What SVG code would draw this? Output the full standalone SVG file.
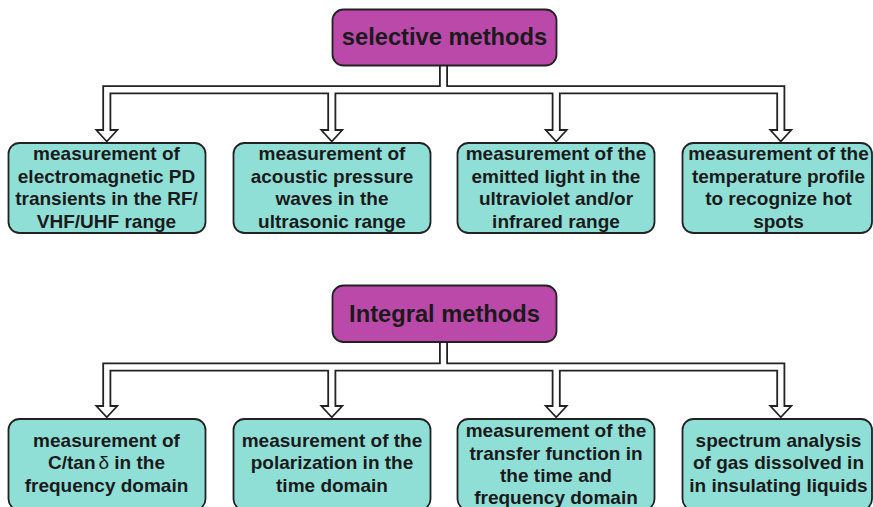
<svg xmlns="http://www.w3.org/2000/svg" width="873" height="507" viewBox="0 0 873 507">
  <style>
    .bg { fill: #ffffff; }
    .head { fill: #bb49aa; stroke: #222222; stroke-width: 1.8; }
    .leaf { fill: #90dfd7; stroke: #222222; stroke-width: 1.8; }
    .title { font-family: "Liberation Sans", Arial, sans-serif; font-weight: bold; font-size: 23.7px; fill: #1a1a1a; text-anchor: middle; }
    .label { font-family: "Liberation Sans", Arial, sans-serif; font-weight: bold; font-size: 19px; fill: #1a1a1a; text-anchor: middle; }
    .rail-out { fill: none; stroke: #222222; stroke-width: 9; stroke-linejoin: miter; stroke-linecap: butt; }
    .rail-in { fill: none; stroke: #ffffff; stroke-width: 5.4; stroke-linejoin: miter; stroke-linecap: butt; }
    .tip { fill: #ffffff; stroke: #222222; stroke-width: 1.8; stroke-linejoin: miter; }
  </style>

  <rect class="bg" x="0" y="0" width="873" height="507"/>

  <!-- hollow double-line connectors -->
  <g id="connectors">
    <!-- upper tree -->
    <path class="rail-out" d="M443.5,65 V89.7 M106.8,131 V89.7 H780.8 V131 M331.8,89.7 V131 M556.2,89.7 V131"/>
    <polygon class="tip" points="96.3,130 117.3,130 106.8,141.5"/>
    <polygon class="tip" points="321.3,130 342.3,130 331.8,141.5"/>
    <polygon class="tip" points="545.7,130 566.7,130 556.2,141.5"/>
    <polygon class="tip" points="770.3,130 791.3,130 780.8,141.5"/>
    <path class="rail-in" d="M443.5,64 V89.7 M106.8,133 V89.7 H780.8 V133 M331.8,89.7 V133 M556.2,89.7 V133"/>

    <!-- lower tree -->
    <path class="rail-out" d="M443.5,342 V367 M106.8,407 V367 H780.8 V407 M331.8,367 V407 M556.2,367 V407"/>
    <polygon class="tip" points="96.3,406 117.3,406 106.8,417.3"/>
    <polygon class="tip" points="321.3,406 342.3,406 331.8,417.3"/>
    <polygon class="tip" points="545.7,406 566.7,406 556.2,417.3"/>
    <polygon class="tip" points="770.3,406 791.3,406 780.8,417.3"/>
    <path class="rail-in" d="M443.5,341 V367 M106.8,409 V367 H780.8 V409 M331.8,367 V409 M556.2,367 V409"/>
  </g>

  <!-- upper group -->
  <g id="selective">
    <rect class="head" x="332.5" y="9.5" width="224" height="56" rx="11"/>
    <text class="title" x="444.5" y="45.2">selective methods</text>
  </g>

  <g id="sel-electromagnetic">
    <rect class="leaf" x="8.5" y="143" width="197" height="90" rx="11"/>
    <text class="label" x="106.5" y="160.3">measurement of</text>
    <text class="label" x="106.5" y="182.8">electromagnetic PD</text>
    <text class="label" x="106.5" y="205.3">transients in the RF/</text>
    <text class="label" x="106.5" y="227.8">VHF/UHF range</text>
  </g>

  <g id="sel-acoustic">
    <rect class="leaf" x="233.5" y="143" width="197" height="90" rx="11"/>
    <text class="label" x="332" y="160.3">measurement of</text>
    <text class="label" x="332" y="182.8">acoustic pressure</text>
    <text class="label" x="332" y="205.3">waves in the</text>
    <text class="label" x="332" y="227.8">ultrasonic range</text>
  </g>

  <g id="sel-light">
    <rect class="leaf" x="457.5" y="143" width="197" height="90" rx="11"/>
    <text class="label" x="556" y="160.3">measurement of the</text>
    <text class="label" x="556" y="182.8">emitted light in the</text>
    <text class="label" x="556" y="205.3">ultraviolet and/or</text>
    <text class="label" x="556" y="227.8">infrared range</text>
  </g>

  <g id="sel-temperature">
    <rect class="leaf" x="682.5" y="143" width="189.5" height="90" rx="11"/>
    <text class="label" x="778.5" y="160.3">measurement of the</text>
    <text class="label" x="778.5" y="182.8">temperature profile</text>
    <text class="label" x="778.5" y="205.3">to recognize hot</text>
    <text class="label" x="778.5" y="227.8">spots</text>
  </g>

  <!-- lower group -->
  <g id="integral">
    <rect class="head" x="332.5" y="285.5" width="224" height="56.5" rx="11"/>
    <text class="title" x="444.5" y="321.5">Integral methods</text>
  </g>

  <g id="int-ctan">
    <rect class="leaf" x="8.5" y="419" width="197" height="91" rx="11"/>
    <text class="label" x="106.5" y="446.8">measurement of</text>
    <text class="label" x="106.5" y="469.3">C/tan<tspan font-weight="normal" dx="3">δ</tspan> in the</text>
    <text class="label" x="106.5" y="491.8">frequency domain</text>
  </g>

  <g id="int-polarization">
    <rect class="leaf" x="233.5" y="419" width="197" height="91" rx="11"/>
    <text class="label" x="332" y="446.8">measurement of the</text>
    <text class="label" x="332" y="469.3">polarization in the</text>
    <text class="label" x="332" y="491.8">time domain</text>
  </g>

  <g id="int-transfer">
    <rect class="leaf" x="457.5" y="419" width="197" height="91" rx="11"/>
    <text class="label" x="556" y="437">measurement of the</text>
    <text class="label" x="556" y="459.5">transfer function in</text>
    <text class="label" x="556" y="482">the time and</text>
    <text class="label" x="556" y="504">frequency domain</text>
  </g>

  <g id="int-gas">
    <rect class="leaf" x="682.5" y="419" width="189.5" height="91" rx="11"/>
    <text class="label" x="778.5" y="446.8">spectrum analysis</text>
    <text class="label" x="778.5" y="469.3">of gas dissolved in</text>
    <text class="label" x="778.5" y="491.8">in insulating liquids</text>
  </g>
</svg>
